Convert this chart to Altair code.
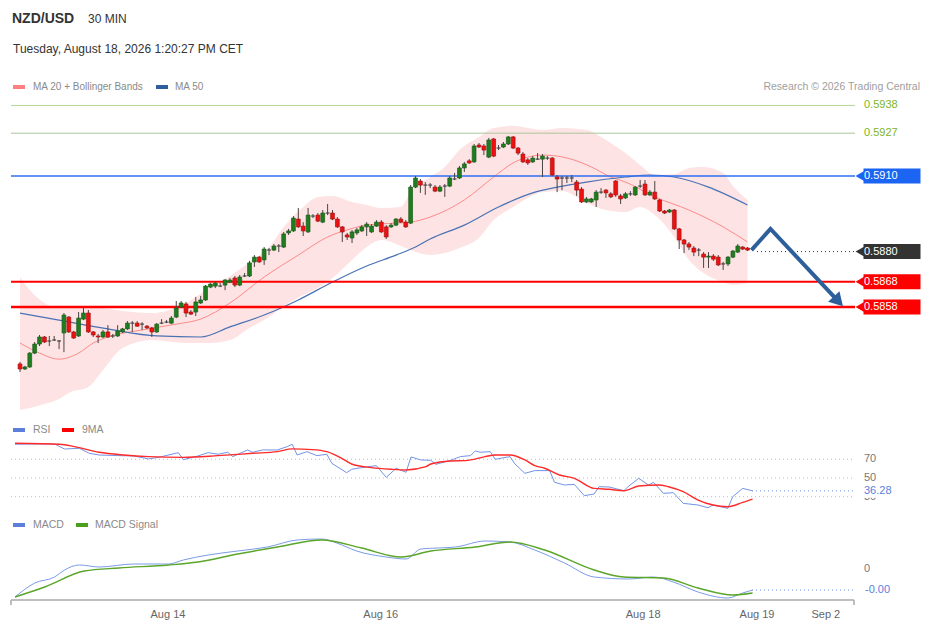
import altair as alt
import pandas as pd

FONT = "Liberation Sans"

# ---------------- candles (NZD/USD, 30 min) ----------------
opens = [0.58354,0.58334,0.58342,0.58397,0.58433,0.58461,0.58445,0.58449,0.58445,0.58477,
0.58540,0.58481,0.58465,0.58532,0.58556,0.58481,0.58465,0.58461,0.58481,0.58465,
0.58465,0.58481,0.58493,0.58516,0.58516,0.58512,0.58504,0.58497,0.58481,0.58516,
0.58520,0.58516,0.58540,0.58580,0.58592,0.58560,0.58560,0.58596,0.58608,0.58659,
0.58663,0.58663,0.58667,0.58679,0.58695,0.58667,0.58703,0.58703,0.58759,0.58778,
0.58767,0.58806,0.58806,0.58822,0.58818,0.58874,0.58882,0.58929,0.58901,0.58878,
0.58941,0.58945,0.58917,0.58953,0.58953,0.58929,0.58898,0.58866,0.58854,0.58874,
0.58882,0.58898,0.58878,0.58901,0.58917,0.58898,0.58898,0.58905,0.58929,0.58917,
0.58913,0.59056,0.59080,0.59064,0.59064,0.59056,0.59040,0.59060,0.59060,0.59088,
0.59092,0.59132,0.59160,0.59156,0.59223,0.59219,0.59175,0.59247,0.59211,0.59215,
0.59227,0.59255,0.59211,0.59187,0.59164,0.59156,0.59167,0.59167,0.59171,0.59171,
0.59096,0.59092,0.59092,0.59092,0.59076,0.59048,0.58997,0.58997,0.59005,0.59036,
0.59044,0.59029,0.59080,0.59021,0.59013,0.59029,0.59025,0.59060,0.59068,0.59025,
0.59036,0.59005,0.58961,0.58957,0.58965,0.58890,0.58846,0.58830,0.58814,0.58806,
0.58790,0.58778,0.58782,0.58778,0.58751,0.58751,0.58778,0.58798,0.58818,0.58814]
closes = [0.58334,0.58342,0.58397,0.58433,0.58461,0.58441,0.58445,0.58449,0.58445,0.58548,
0.58481,0.58457,0.58536,0.58556,0.58481,0.58469,0.58461,0.58481,0.58461,0.58465,
0.58485,0.58493,0.58516,0.58516,0.58504,0.58512,0.58497,0.58481,0.58512,0.58516,
0.58520,0.58536,0.58576,0.58596,0.58556,0.58552,0.58600,0.58608,0.58663,0.58671,
0.58675,0.58663,0.58687,0.58687,0.58667,0.58699,0.58703,0.58755,0.58778,0.58759,
0.58810,0.58806,0.58822,0.58822,0.58870,0.58882,0.58933,0.58898,0.58882,0.58945,
0.58941,0.58921,0.58953,0.58953,0.58929,0.58898,0.58878,0.58858,0.58878,0.58886,
0.58898,0.58909,0.58901,0.58917,0.58878,0.58858,0.58905,0.58929,0.58917,0.58898,
0.59056,0.59092,0.59064,0.59064,0.59064,0.59040,0.59056,0.59060,0.59092,0.59088,
0.59132,0.59148,0.59152,0.59219,0.59215,0.59203,0.59243,0.59179,0.59211,0.59227,
0.59255,0.59211,0.59191,0.59156,0.59152,0.59171,0.59167,0.59179,0.59171,0.59104,
0.59088,0.59092,0.59092,0.59092,0.59044,0.58997,0.59009,0.59009,0.59036,0.59036,
0.59033,0.59017,0.59025,0.59009,0.59029,0.59029,0.59056,0.59060,0.59025,0.59036,
0.59009,0.58961,0.58953,0.58965,0.58890,0.58846,0.58830,0.58818,0.58798,0.58806,
0.58778,0.58782,0.58770,0.58747,0.58751,0.58778,0.58802,0.58822,0.58810,0.58806]
highs = [0.58362,0.58346,0.58401,0.58441,0.58469,0.58465,0.58465,0.58465,0.58449,0.58556,
0.58544,0.58485,0.58560,0.58576,0.58568,0.58485,0.58473,0.58489,0.58508,0.58473,
0.58508,0.58497,0.58524,0.58524,0.58524,0.58520,0.58508,0.58501,0.58516,0.58532,
0.58528,0.58544,0.58604,0.58604,0.58600,0.58568,0.58620,0.58624,0.58667,0.58675,
0.58683,0.58675,0.58691,0.58695,0.58703,0.58707,0.58715,0.58763,0.58786,0.58782,
0.58818,0.58814,0.58830,0.58830,0.58878,0.58890,0.58941,0.58973,0.58917,0.58973,
0.58949,0.58953,0.58965,0.58989,0.58965,0.58937,0.58901,0.58874,0.58886,0.58894,
0.58905,0.58917,0.58909,0.58925,0.58925,0.58905,0.58913,0.58933,0.58937,0.58925,
0.59064,0.59100,0.59088,0.59076,0.59072,0.59064,0.59064,0.59068,0.59100,0.59112,
0.59140,0.59156,0.59167,0.59227,0.59231,0.59227,0.59251,0.59251,0.59223,0.59235,
0.59259,0.59259,0.59215,0.59195,0.59171,0.59179,0.59191,0.59187,0.59179,0.59175,
0.59104,0.59100,0.59100,0.59104,0.59084,0.59056,0.59017,0.59013,0.59044,0.59052,
0.59048,0.59036,0.59084,0.59029,0.59036,0.59040,0.59060,0.59084,0.59084,0.59044,
0.59080,0.59009,0.58965,0.58969,0.58969,0.58894,0.58850,0.58838,0.58822,0.58814,
0.58798,0.58798,0.58790,0.58786,0.58759,0.58782,0.58806,0.58830,0.58822,0.58818]
lows = [0.58322,0.58330,0.58338,0.58393,0.58425,0.58437,0.58425,0.58445,0.58413,0.58401,
0.58477,0.58453,0.58461,0.58528,0.58477,0.58461,0.58437,0.58457,0.58457,0.58457,
0.58461,0.58477,0.58489,0.58481,0.58501,0.58489,0.58493,0.58461,0.58477,0.58512,
0.58516,0.58512,0.58536,0.58576,0.58540,0.58548,0.58544,0.58592,0.58604,0.58655,
0.58655,0.58659,0.58647,0.58675,0.58659,0.58663,0.58699,0.58699,0.58739,0.58755,
0.58747,0.58786,0.58802,0.58798,0.58814,0.58866,0.58878,0.58894,0.58862,0.58874,
0.58933,0.58917,0.58913,0.58945,0.58925,0.58894,0.58838,0.58846,0.58834,0.58866,
0.58878,0.58862,0.58874,0.58898,0.58874,0.58850,0.58894,0.58901,0.58913,0.58894,
0.58909,0.59052,0.59033,0.59025,0.59052,0.59036,0.59036,0.59017,0.59056,0.59084,
0.59088,0.59116,0.59148,0.59152,0.59211,0.59183,0.59171,0.59175,0.59203,0.59211,
0.59223,0.59207,0.59183,0.59152,0.59144,0.59152,0.59164,0.59096,0.59164,0.59100,
0.59036,0.59044,0.59072,0.59076,0.59021,0.58993,0.58993,0.58993,0.58977,0.59029,
0.59013,0.59013,0.59017,0.58989,0.59009,0.59021,0.59021,0.59052,0.59021,0.59021,
0.59005,0.58957,0.58949,0.58953,0.58886,0.58810,0.58794,0.58806,0.58782,0.58782,
0.58735,0.58735,0.58763,0.58743,0.58727,0.58743,0.58774,0.58794,0.58806,0.58802]

# ---------------- overlays ----------------
band_idx = [0,2,5,8,10,14,17,21,27,34,39,43,47,51,54,58,61,64,68,71,74,78,80,84,87,90,94,97,
            101,104,107,111,116,120,124,127,130,134,137,140,144,146,149]
band_upper = [0.58699,0.58647,0.58596,0.58576,0.58580,0.58584,0.58576,0.58564,0.58556,0.58596,
              0.58659,0.58703,0.58759,0.58818,0.58898,0.58977,0.59017,0.59021,0.58997,0.58985,
              0.58973,0.58977,0.59036,0.59096,0.59136,0.59203,0.59255,0.59291,0.59299,0.59291,
              0.59283,0.59291,0.59283,0.59243,0.59191,0.59144,0.59104,0.59108,0.59132,0.59136,
              0.59112,0.59060,0.59005]
band_lower = [0.58171,0.58179,0.58195,0.58215,0.58239,0.58262,0.58330,0.58417,0.58449,0.58437,
              0.58437,0.58449,0.58497,0.58540,0.58584,0.58628,0.58655,0.58695,0.58767,0.58818,
              0.58846,0.58822,0.58806,0.58786,0.58794,0.58814,0.58854,0.58925,0.58977,0.59013,
              0.59036,0.59040,0.58993,0.58965,0.58957,0.58977,0.58945,0.58858,0.58767,0.58715,
              0.58679,0.58667,0.58675]
ma20_idx = [0,4,8,12,15,18,25,32,37,43,50,57,63,67,71,77,80,84,91,97,101,107,110,114,117,121,124,130,137,144,149]
ma20_val = [0.58437,0.58397,0.58373,0.58397,0.58437,0.58461,0.58489,0.58512,0.58532,0.58596,
            0.58699,0.58786,0.58858,0.58886,0.58905,0.58913,0.58917,0.58937,0.59005,0.59096,
            0.59152,0.59183,0.59179,0.59160,0.59136,0.59096,0.59076,0.59017,0.58965,0.58898,0.58838]
ma50_idx = [0,8,18,28,37,43,50,57,64,71,77,81,84,91,98,105,110,116,124,129,134,141,149]
ma50_val = [0.58556,0.58528,0.58493,0.58465,0.58461,0.58501,0.58548,0.58608,0.58679,0.58743,
            0.58786,0.58818,0.58850,0.58905,0.58977,0.59033,0.59056,0.59076,0.59096,0.59104,
            0.59096,0.59056,0.58985]

target_levels = [0.5938, 0.5927]
pivot_level = 0.5910
support_levels = [0.5868, 0.5858]
last_price = 0.5880
fc_idx = [149.8, 153.7, 167.6]
fc_price = [0.58806, 0.58890, 0.58602]

# ---------------- RSI ----------------
rsi_idx = [0,4,8,10,13,15,17,21,24,27,29,33,34,37,39,41,43,44,47,48,50,53,55,56,57,59,61,63,64,67,
           68,70,73,75,77,79,80,82,84,85,88,90,92,93,94,96,97,100,101,103,105,108,109,111,113,115,
           117,118,120,123,124,126,128,129,131,133,135,138,140,141,144,145,147,149]
rsi_val = [86.1,86.4,86.4,81.0,81.8,76.4,74.6,73.9,73.6,70.4,72.1,77.1,69.6,73.6,77.1,75.4,77.5,72.9,
           80.0,77.5,80.0,80.0,83.6,86.1,74.6,78.2,73.9,75.4,65.7,55.7,59.3,61.1,63.2,50.7,60.4,56.1,
           72.5,69.3,68.9,64.6,68.9,72.9,73.9,78.9,77.5,78.2,70.0,72.9,65.0,55.0,57.9,57.9,45.4,42.5,
           43.2,31.1,32.9,40.7,40.4,36.4,41.4,49.6,42.5,45.4,33.6,34.3,22.9,21.1,18.2,21.1,17.5,30.0,
           38.9,36.28]
ma9_idx = [0,9,12,17,22,27,34,41,48,53,56,60,63,66,68,72,76,79,83,84,88,91,95,97,100,103,105,107,
           110,113,117,120,123,126,130,132,135,138,141,144,147,149]
ma9_val = [87.1,86.1,83.6,77.5,74.6,72.9,72.1,73.9,76.4,78.2,81.1,80.4,78.2,71.1,65.0,61.1,59.3,58.6,
           62.1,65.0,68.2,68.6,72.9,74.6,74.6,69.3,63.2,60.4,53.2,49.6,38.9,37.9,36.4,41.4,42.5,40.7,
           35.4,26.4,21.1,19.3,23.9,27.5]
rsi_grid = [70, 50, 30]

# ---------------- MACD ----------------
macd_idx = [0,4,8,10,13,17,24,31,34,39,45,51,57,62,65,69,75,79,82,89,95,100,105,111,117,124,129,133,138,144,147,149]
macd_val = [-0.00056,-0.00028,-0.00016,-0.00002,0.00008,0.00004,0.00010,0.00010,0.00018,0.00028,
            0.00036,0.00044,0.00058,0.00060,0.00052,0.00036,0.00024,0.00020,0.00040,0.00044,
            0.00056,0.00054,0.00038,0.00012,-0.00016,-0.00020,-0.00016,-0.00026,-0.00046,-0.00058,
            -0.00048,-0.00042]
sig_idx = [0,6,14,21,31,37,45,53,62,70,78,84,93,100,107,117,123,131,138,145,149]
sig_val = [-0.00056,-0.00036,-0.00004,0.00002,0.00008,0.00014,0.00030,0.00044,0.00058,0.00042,
           0.00024,0.00036,0.00044,0.00054,0.00038,-0.00002,-0.00016,-0.00018,-0.00038,-0.00052,-0.00048]

tick_pos = [30.9, 73.9, 126.9, 149.9, 163.8]
tick_labels = ["Aug 14", "Aug 16", "Aug 18", "Aug 19", "Sep 2"]

# ---------------- scales ----------------
W = 913
H1, H2, H3 = 408, 100, 105
XS = alt.Scale(domain=[0, 149], range=[7, 744.55], nice=False, zero=False)
PS = alt.Scale(domain=[0.5858, 0.5910], range=[299, 168], nice=False, zero=False)
RS = alt.Scale(domain=[30, 70], range=[80.7, 43.3], nice=False, zero=False)
MS = alt.Scale(domain=[-0.0006, 0.0006], range=[83, 23], nice=False, zero=False)
PX_LEFT, PX_RIGHT, PX_PANEL_END, PX_LAST = 3, 847, 845, 744


def X(f):
    return alt.X(f, type="quantitative", scale=XS, axis=None)


def Y(f, sc):
    return alt.Y(f, type="quantitative", scale=sc, axis=None)


one = pd.DataFrame({"k": [0]})


def label(s, x, y, size=11, color="#333333", weight="normal", align="left"):
    return alt.Chart(one).mark_text(fontSize=size, color=color, fontWeight=weight,
                                    align=align, baseline="middle", font=FONT).encode(
        x=alt.value(x), y=alt.value(y), text=alt.value(s))


def swatch(x0, x1, y0, y1, color):
    return alt.Chart(one).mark_rect(color=color).encode(
        x=alt.value(x0), x2=alt.value(x1), y=alt.value(y0), y2=alt.value(y1))


def hspan(df, sc, x0, x1, color, width, dash=None):
    kw = dict(color=color, strokeWidth=width)
    if dash:
        kw["strokeDash"] = dash
    return alt.Chart(df).mark_rule(**kw).encode(
        x=alt.value(x0), x2=alt.value(x1), y=Y("p", sc))


# ---------------- price panel ----------------
cdf = pd.DataFrame({"i": list(range(len(closes))), "o": opens, "h": highs, "l": lows, "c": closes})
cdf["dir"] = ["up" if c > o else ("down" if c < o else "flat") for o, c in zip(opens, closes)]

band = alt.Chart(pd.DataFrame({"i": band_idx, "u": band_upper, "lo": band_lower})).mark_area(
    color="#fde3e3", interpolate="monotone").encode(x=X("i"), y=Y("u", PS), y2="lo")
ma20 = alt.Chart(pd.DataFrame({"i": ma20_idx, "p": ma20_val})).mark_line(
    color="#ff8a8a", strokeWidth=1, interpolate="monotone").encode(x=X("i"), y=Y("p", PS))
ma50 = alt.Chart(pd.DataFrame({"i": ma50_idx, "p": ma50_val})).mark_line(
    color="#4a72b5", strokeWidth=1.2, interpolate="monotone").encode(x=X("i"), y=Y("p", PS))

lines = [hspan(pd.DataFrame({"p": [target_levels[0]]}), PS, PX_LEFT, PX_RIGHT, "#b2d996", 1),
         hspan(pd.DataFrame({"p": [target_levels[1]]}), PS, PX_LEFT, PX_RIGHT, "#a9c69a", 1),
         hspan(pd.DataFrame({"p": [pivot_level]}), PS, PX_LEFT, PX_RIGHT, "#2d6ef0", 1.5),
         hspan(pd.DataFrame({"p": [support_levels[0]]}), PS, PX_LEFT, PX_RIGHT, "#ff0000", 2),
         hspan(pd.DataFrame({"p": [support_levels[1]]}), PS, PX_LEFT, PX_RIGHT, "#ff0000", 2.4)]

wicks = alt.Chart(cdf).mark_rule(color="#4a4444", strokeWidth=1).encode(
    x=X("i"), y=Y("l", PS), y2="h")
body_style = {"up": ("#1f7d1f", "#1a5c1a"), "down": ("#ee1111", "#a81010"), "flat": ("#444444", "#444444")}
bodies = [alt.Chart(cdf).transform_filter(alt.datum.dir == k).mark_bar(
    size=3.8, strokeWidth=0.7, fill=f, stroke=s).encode(x=X("i"), y=Y("o", PS), y2="c")
    for k, (f, s) in body_style.items()]

last_dot = hspan(pd.DataFrame({"p": [last_price]}), PS, PX_LAST + 5, PX_RIGHT, "#333333", 1, [1, 3])

arrow = alt.Chart(pd.DataFrame({"i": fc_idx, "p": fc_price})).mark_line(
    color="#2d5f9a", strokeWidth=4, strokeJoin="miter").encode(x=X("i"), y=Y("p", PS))
head = alt.Chart(pd.DataFrame({"i": fc_idx[-1:], "p": fc_price[-1:]})).mark_point(
    shape="triangle-right", angle=47, size=240, filled=True, color="#2d5f9a", opacity=1).encode(
    x=X("i"), y=Y("p", PS))

tgt_text = alt.Chart(pd.DataFrame({"p": target_levels, "t": [f"{v:.4f}" for v in target_levels]})).mark_text(
    color="#7cb51f", fontSize=11, align="left", baseline="middle", font=FONT).encode(
    x=alt.value(856), y=Y("p", PS), text="t:N")


def tag(p, color):
    d = pd.DataFrame({"p": [p], "t": [f"{p:.4f}"]})
    body = alt.Chart(d).mark_tick(orient="horizontal", size=57, thickness=15, color=color,
                                  opacity=1).encode(x=alt.value(884), y=Y("p", PS))
    tip = alt.Chart(d).mark_point(shape="triangle-left", size=130, filled=True, opacity=1,
                                  color=color).encode(x=alt.value(852.5), y=Y("p", PS))
    txt = alt.Chart(d).mark_text(color="white", fontSize=11, align="left", baseline="middle",
                                 font=FONT).encode(x=alt.value(856), y=Y("p", PS), text="t:N")
    return [body, tip, txt]


tags = tag(pivot_level, "#1c64f2") + tag(last_price, "#333333") + \
    tag(support_levels[0], "#ff0000") + tag(support_levels[1], "#ff0000")

panel_price = alt.layer(
    band, ma20, ma50, *lines, wicks, *bodies, last_dot, arrow, head, tgt_text, *tags,
    label("NZD/USD", 4, 11, 14, "#333333", "bold"),
    label("30 MIN", 80, 11, 12, "#333333"),
    label("Tuesday, August 18, 2026 1:20:27 PM CET", 5, 41, 12, "#333333"),
    swatch(5, 17, 77, 81, "#ff8080"),
    label("MA 20 + Bollinger Bands", 25, 79, 10, "#8a8a8a"),
    swatch(148, 160, 77, 81, "#2f5f9f"),
    label("MA 50", 167, 79, 10, "#8a8a8a"),
    label("Research \u00a9 2026 Trading Central", 912, 79, 10.5, "#a0a0a0", align="right"),
).properties(width=W, height=H1)

# ---------------- RSI panel ----------------
rgrid = hspan(pd.DataFrame({"p": rsi_grid}), RS, PX_LEFT, PX_PANEL_END, "#bdbdbd", 1, [1, 3])
rgrid_text = alt.Chart(pd.DataFrame({"p": rsi_grid, "t": [str(v) for v in rsi_grid]})).mark_text(
    color="#777777", fontSize=11, align="left", baseline="middle", font=FONT).encode(
    x=alt.value(856), y=Y("p", RS), text="t:N")
rsi_line = alt.Chart(pd.DataFrame({"i": rsi_idx, "p": rsi_val})).mark_line(
    color="#7393e6", strokeWidth=1).encode(x=X("i"), y=Y("p", RS))
ma9_line = alt.Chart(pd.DataFrame({"i": ma9_idx, "p": ma9_val})).mark_line(
    color="#ff2a2a", strokeWidth=1.4, interpolate="monotone").encode(x=X("i"), y=Y("p", RS))
rsi_last = pd.DataFrame({"p": [rsi_val[-1]], "t": [f"{rsi_val[-1]:.2f}"]})
rsi_dot = hspan(rsi_last, RS, PX_LAST, PX_PANEL_END, "#6d8fe4", 1, [1, 3])
rsi_box = alt.Chart(rsi_last).mark_tick(orient="horizontal", size=56, thickness=14, color="white",
                                        opacity=1).encode(x=alt.value(880), y=Y("p", RS))
rsi_text = alt.Chart(rsi_last).mark_text(color="#5b7fdb", fontSize=11, align="left",
                                         baseline="middle", font=FONT).encode(
    x=alt.value(856), y=Y("p", RS), text="t:N")
panel_rsi = alt.layer(
    rgrid, rgrid_text, rsi_line, ma9_line, rsi_dot, rsi_box, rsi_text,
    swatch(5, 17, 12, 16, "#5b7fdb"),
    label("RSI", 25, 14, 10.5, "#8a8a8a"),
    swatch(54, 66, 12, 16, "#ff0000"),
    label("9MA", 74, 14, 10.5, "#8a8a8a"),
).properties(width=W, height=H2)

# ---------------- MACD panel ----------------
macd_line = alt.Chart(pd.DataFrame({"i": macd_idx, "p": macd_val})).mark_line(
    color="#7b9be8", strokeWidth=1, interpolate="monotone").encode(x=X("i"), y=Y("p", MS))
sig_line = alt.Chart(pd.DataFrame({"i": sig_idx, "p": sig_val})).mark_line(
    color="#5aa52a", strokeWidth=1.4, interpolate="monotone").encode(x=X("i"), y=Y("p", MS))
macd_last = pd.DataFrame({"p": [macd_val[-1]], "t": [f"{macd_val[-1]:.2f}"]})
macd_dot = hspan(macd_last, MS, PX_LAST, PX_PANEL_END, "#6d8fe4", 1, [1, 3])
macd_text = alt.Chart(macd_last).mark_text(color="#5b7fdb", fontSize=11, align="left",
                                           baseline="middle", font=FONT).encode(
    x=alt.value(857), y=Y("p", MS), text="t:N")
zero_text = alt.Chart(pd.DataFrame({"p": [0], "t": ["0"]})).mark_text(
    color="#777777", fontSize=11, align="left", baseline="middle", font=FONT).encode(
    x=alt.value(856), y=Y("p", MS), text="t:N")

axis_line = alt.Chart(one).mark_rule(color="#aaaaaa", strokeWidth=1.5).encode(
    x=alt.value(PX_LEFT), x2=alt.value(846), y=alt.value(84))
axis_end_l = alt.Chart(one).mark_rule(color="#aaaaaa", strokeWidth=1.5).encode(
    x=alt.value(PX_LEFT), y=alt.value(84), y2=alt.value(89))
axis_end_r = alt.Chart(one).mark_rule(color="#aaaaaa", strokeWidth=1.5).encode(
    x=alt.value(846), y=alt.value(84), y2=alt.value(89))
xlabels = alt.Chart(pd.DataFrame({"i": tick_pos, "t": tick_labels})).mark_text(
    color="#666666", fontSize=11, align="center", baseline="middle", font=FONT).encode(
    x=X("i"), y=alt.value(99), text="t:N")

panel_macd = alt.layer(
    macd_line, sig_line, macd_dot, macd_text, zero_text,
    axis_line, axis_end_l, axis_end_r, xlabels,
    swatch(5, 17, 7, 11, "#5b7fdb"),
    label("MACD", 25, 9, 10.5, "#8a8a8a"),
    swatch(68, 80, 7, 11, "#4aa01c"),
    label("MACD Signal", 87, 9, 10.5, "#8a8a8a"),
).properties(width=W, height=H3)

chart = alt.vconcat(panel_price, panel_rsi, panel_macd, spacing=0).properties(
    padding=0).configure_view(stroke=None)

chart.save("out.html", embed_options={"renderer": "svg", "actions": False})
